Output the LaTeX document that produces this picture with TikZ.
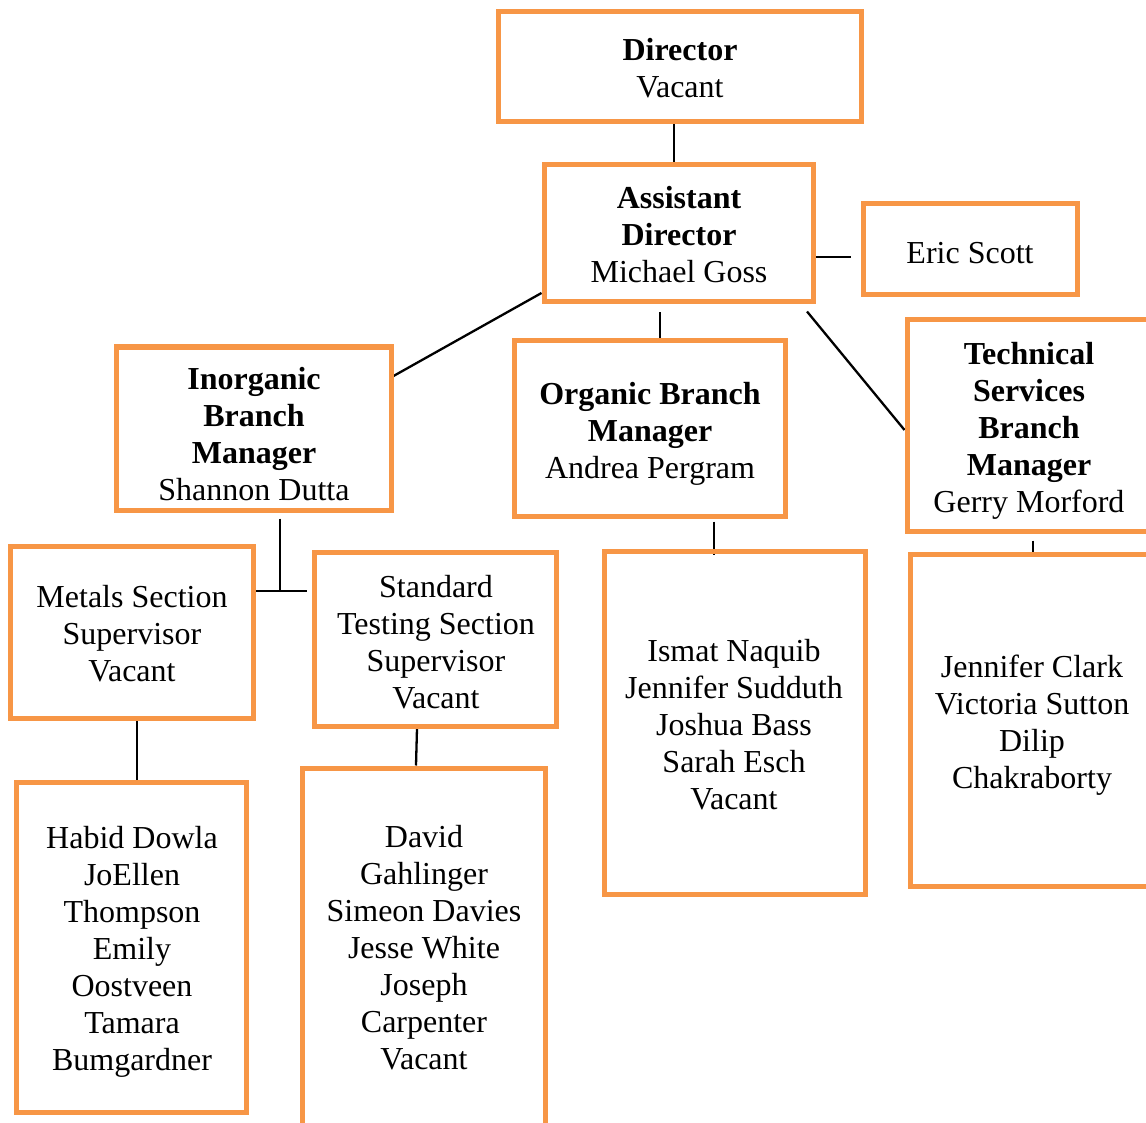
\documentclass[tikz,border=0pt]{standalone}
\usepackage{fontspec}
\setmainfont{Liberation Serif}
\usetikzlibrary{backgrounds}
\definecolor{boxorange}{HTML}{F79646}
\tikzset{
  orgbox/.style={draw=boxorange, line width=5pt, inner sep=0pt, rectangle},
  lbl/.style={align=center, inner sep=0pt, font=\fontsize{32}{37}\selectfont,
    execute at begin node=\strut, execute at end node=\strut},
  conn/.style={draw=black, line width=2.3pt}
}
\begin{document}
\begin{tikzpicture}[x=1pt,y=-1pt]
\useasboundingbox (0,0) rectangle (1146,1123);
% boxes
\node[orgbox, minimum width=363pt, minimum height=110pt] (dir) at (679.5,67) {};
\node[orgbox, minimum width=269pt, minimum height=137pt] (asst) at (678.5,233.5) {};
\node[orgbox, minimum width=214pt, minimum height=91pt] (eric) at (970,249.5) {};
\node[orgbox, minimum width=275pt, minimum height=163pt] (inorg) at (253.5,428.5) {};
\node[orgbox, minimum width=271pt, minimum height=175pt] (org) at (649.5,428.5) {};
\node[orgbox, minimum width=244pt, minimum height=211pt] (tech) at (1029,425.5) {};
\node[orgbox, minimum width=243pt, minimum height=172pt] (metals) at (131.5,632) {};
\node[orgbox, minimum width=242pt, minimum height=174pt] (std) at (435,639) {};
\node[orgbox, minimum width=261pt, minimum height=343pt] (ostaff) at (734.5,722.5) {};
\node[orgbox, minimum width=244pt, minimum height=332pt] (tstaff) at (1032,720) {};
\node[orgbox, minimum width=230pt, minimum height=330pt] (mstaff) at (131,947) {};
\node[orgbox, minimum width=243pt, minimum height=361pt] (sstaff) at (423.5,948.5) {};
% texts
\node[lbl] (dirT) at (680,73.5) {\textbf{Director}\\Vacant};
\node[lbl] (asstT) at (679,240) {\textbf{Assistant}\\\textbf{Director}\\Michael Goss};
\node[lbl] (ericT) at (970,256) {Eric Scott};
\node[lbl] (inorgT) at (254,439) {\textbf{Inorganic}\\\textbf{Branch}\\\textbf{Manager}\\Shannon Dutta};
\node[lbl] (orgT) at (650,435.5) {\textbf{Organic Branch}\\\textbf{Manager}\\Andrea Pergram};
\node[lbl] (techT) at (1029,433) {\textbf{Technical}\\\textbf{Services}\\\textbf{Branch}\\\textbf{Manager}\\Gerry Morford};
\node[lbl] (metalsT) at (132,639) {Metals Section\\Supervisor\\Vacant};
\node[lbl] (stdT) at (436,647) {Standard\\Testing Section\\Supervisor\\Vacant};
\node[lbl] (ostaffT) at (734,730) {Ismat Naquib\\Jennifer Sudduth\\Joshua Bass\\Sarah Esch\\Vacant};
\node[lbl] (tstaffT) at (1032,727.5) {Jennifer Clark\\Victoria Sutton\\Dilip\\Chakraborty};
\node[lbl] (mstaffT) at (132,954) {Habid Dowla\\JoEllen\\Thompson\\Emily\\Oostveen\\Tamara\\Bumgardner};
\node[lbl] (sstaffT) at (424,953) {David\\Gahlinger\\Simeon Davies\\Jesse White\\Joseph\\Carpenter\\Vacant};
% connectors
\coordinate (J) at (280,591);
\coordinate (Jr) at (307,591);
\coordinate (o1) at ([xshift=64.5pt,yshift=-3pt]org.south);
\begin{scope}[on background layer]
\draw[conn] ([xshift=-5.5pt]dir.south) -- ([xshift=-5.5pt]dir.south |- asst.north);
\draw[conn] ([yshift=-23.5pt]asst.east) -- ([yshift=-23.5pt,xshift=-10pt]eric.west |- asst.east);
\draw[conn] ([yshift=-59.5pt]asst.west) -- ([yshift=52.5pt]inorg.east);
\draw[conn] ([xshift=-18.5pt,yshift=-8pt]asst.south) -- ([xshift=-18.5pt]asst.south |- org.north);
\draw[conn] ([xshift=-8.5pt,yshift=-7pt]asst.south east) -- ([yshift=-4.5pt]tech.west);
\draw[conn] ([xshift=26.5pt,yshift=-6pt]inorg.south) -- (J);
\draw[conn] (metals.east |- J) -- (Jr);
\draw[conn] ([xshift=5.5pt]metals.south) -- ([xshift=5.5pt]metals.south |- mstaff.north);
\draw[conn] ([xshift=-18pt]std.south) -- ([xshift=-7.5pt]sstaff.north);
\draw[conn] (o1) -- ([yshift=-6pt]o1 |- ostaff.north);
\draw[conn] ([xshift=4pt,yshift=-7pt]tech.south) -- ([xshift=4pt]tech.south |- tstaff.north);
\end{scope}
\end{tikzpicture}
\end{document}
